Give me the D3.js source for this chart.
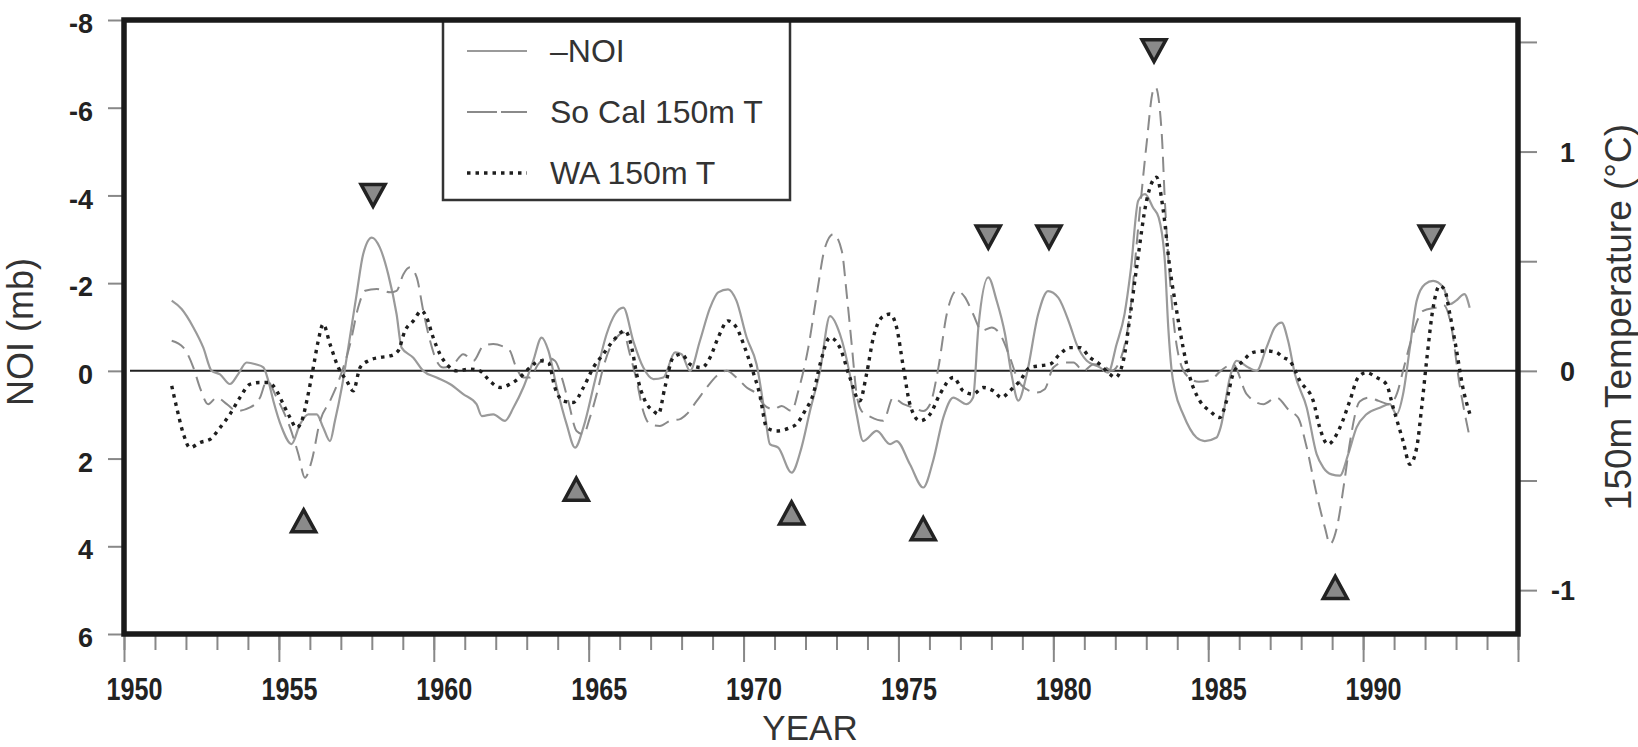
<!DOCTYPE html>
<html>
<head>
<meta charset="utf-8">
<script src="https://cdnjs.cloudflare.com/ajax/libs/d3/7.8.5/d3.min.js"></script>
<style>
  body { margin: 0; background: #fff; }
  svg { display: block; font-family: 'Liberation Sans', Arial, sans-serif; }
</style>
</head>
<body>
<div id="chart"></div>
<script>
// -NOI (mb), plotted on the inverted left axis
var noiSeries = [
  [1951.54,-1.6],[1951.86,-1.41],[1952.24,-0.99],[1952.56,-0.53],[1952.83,0.0],[1953.1,0.08],
  [1953.42,0.3],[1953.68,0.08],[1953.96,-0.19],[1954.25,-0.15],[1954.5,-0.08],[1954.66,0.23],
  [1954.82,0.68],[1955.09,1.29],[1955.41,1.67],[1955.68,1.22],[1955.95,0.99],[1956.22,0.99],
  [1956.43,1.29],[1956.65,1.6],[1956.81,1.14],[1957.03,0.38],[1957.24,-0.53],[1957.51,-1.75],
  [1957.72,-2.66],[1958.0,-3.04],[1958.26,-2.81],[1958.53,-2.2],[1958.8,-1.29],[1958.96,-0.53],
  [1959.34,-0.3],[1959.66,0.0],[1960.09,0.15],[1960.52,0.3],[1960.95,0.53],[1961.38,0.76],
  [1961.55,1.03],[1961.92,0.99],[1962.3,1.14],[1962.57,0.84],[1962.89,0.38],[1963.21,-0.23],
  [1963.48,-0.76],[1963.7,-0.46],[1963.97,0.38],[1964.29,1.22],[1964.56,1.75],[1964.83,1.29],
  [1965.2,0.23],[1965.58,-0.84],[1965.85,-1.29],[1966.12,-1.44],[1966.44,-0.68],[1966.76,-0.08],
  [1967.09,0.19],[1967.41,0.15],[1967.79,-0.42],[1968.0,-0.38],[1968.27,0.0],[1968.59,-0.68],
  [1968.92,-1.44],[1969.18,-1.79],[1969.5,-1.86],[1969.77,-1.6],[1970.1,-0.76],[1970.42,-0.15],
  [1970.69,0.99],[1970.85,1.67],[1971.12,1.75],[1971.55,2.32],[1971.87,1.75],[1972.15,0.9],
  [1972.47,0.0],[1972.79,-1.25],[1973.11,-0.84],[1973.43,0.08],[1973.65,0.99],[1973.86,1.6],
  [1974.3,1.37],[1974.73,1.67],[1974.94,1.6],[1975.37,2.13],[1975.8,2.66],[1976.12,2.05],
  [1976.45,1.06],[1976.77,0.61],[1977.2,0.76],[1977.41,0.61],[1977.58,-0.99],[1977.9,-2.13],
  [1978.17,-1.6],[1978.44,-0.84],[1978.65,0.08],[1978.87,0.68],[1979.14,0.08],[1979.51,-1.29],
  [1979.83,-1.82],[1980.16,-1.67],[1980.53,-1.06],[1980.75,-0.61],[1981.08,-0.23],[1981.5,-0.08],
  [1981.77,0.04],[1982.04,-0.6],[1982.3,-1.3],[1982.5,-2.3],[1982.74,-3.88],[1982.96,-4.03],
  [1983.22,-3.72],[1983.4,-3.5],[1983.6,-2.5],[1983.71,-0.99],[1983.82,0.0],[1983.93,0.46],
  [1984.19,0.99],[1984.62,1.52],[1984.89,1.6],[1985.27,1.52],[1985.4,1.29],[1985.7,0.15],
  [1985.92,-0.23],[1986.24,-0.1],[1986.56,0.0],[1986.88,-0.53],[1987.15,-0.99],[1987.37,-1.1],
  [1987.58,-0.68],[1987.8,0.08],[1988.18,0.84],[1988.5,1.9],[1988.71,2.2],[1988.98,2.36],
  [1989.25,2.39],[1989.52,1.9],[1989.79,1.29],[1990.11,0.99],[1990.54,0.84],[1990.86,0.76],
  [1991.08,0.99],[1991.29,0.53],[1991.51,-0.53],[1991.73,-1.6],[1992.0,-1.98],[1992.26,-2.05],
  [1992.59,-1.9],[1992.8,-1.52],[1993.0,-1.6],[1993.27,-1.75],[1993.44,-1.44]
];

// So Cal 150m temperature anomaly (deg C), right axis
var soCalSeries = [
  [1951.54,0.137],[1951.92,0.106],[1952.24,0.015],[1952.45,-0.076],[1952.72,-0.152],[1952.99,-0.122],
  [1953.32,-0.152],[1953.64,-0.183],[1954.07,-0.167],[1954.39,-0.122],[1954.61,-0.046],[1954.93,-0.122],
  [1955.36,-0.259],[1955.63,-0.38],[1955.84,-0.487],[1956.06,-0.41],[1956.33,-0.228],[1956.65,-0.137],
  [1956.97,-0.03],[1957.3,0.122],[1957.56,0.289],[1957.78,0.365],[1958.16,0.373],[1958.59,0.358],
  [1958.8,0.365],[1959.02,0.441],[1959.23,0.472],[1959.45,0.426],[1959.66,0.274],[1959.88,0.137],
  [1960.09,0.046],[1960.31,0.015],[1960.63,0.03],[1960.95,0.076],[1961.28,0.046],[1961.6,0.114],
  [1961.92,0.122],[1962.19,0.114],[1962.46,0.091],[1962.62,0.03],[1962.89,-0.03],[1963.1,-0.03],
  [1963.37,0.03],[1963.64,0.061],[1963.91,0.046],[1964.13,-0.03],[1964.34,-0.137],[1964.61,-0.274],
  [1964.83,-0.289],[1965.04,-0.213],[1965.26,-0.106],[1965.47,0.015],[1965.69,0.106],[1965.9,0.152],
  [1966.12,0.175],[1966.33,0.076],[1966.55,-0.046],[1966.76,-0.183],[1966.98,-0.243],[1967.3,-0.251],
  [1967.62,-0.228],[1967.95,-0.22],[1968.16,-0.198],[1968.49,-0.137],[1968.81,-0.076],[1969.13,-0.023],
  [1969.45,0.0],[1969.77,-0.03],[1970.1,-0.076],[1970.42,-0.106],[1970.64,-0.152],[1970.96,-0.175],
  [1971.23,-0.16],[1971.55,-0.183],[1971.77,-0.091],[1972.09,0.106],[1972.36,0.345],[1972.63,0.563],
  [1972.9,0.624],[1973.17,0.548],[1973.33,0.35],[1973.49,0.122],[1973.65,-0.106],[1973.81,-0.183],
  [1974.1,-0.21],[1974.51,-0.228],[1974.83,-0.122],[1975.16,-0.152],[1975.48,-0.167],[1975.8,-0.183],
  [1976.02,-0.152],[1976.29,0.015],[1976.56,0.259],[1976.88,0.365],[1977.15,0.335],[1977.41,0.259],
  [1977.69,0.183],[1978.01,0.198],[1978.28,0.167],[1978.6,0.061],[1978.87,-0.046],[1979.14,-0.084],
  [1979.46,-0.099],[1979.72,-0.084],[1980.0,0.015],[1980.32,0.038],[1980.65,0.038],[1980.97,0.0],
  [1981.3,0.03],[1981.62,0.023],[1981.88,0.0],[1982.15,0.046],[1982.47,0.259],[1982.74,0.654],
  [1983.01,1.035],[1983.22,1.279],[1983.3,1.294],[1983.5,1.08],[1983.6,0.776],[1983.82,0.32],
  [1984.0,0.1],[1984.3,-0.02],[1984.7,-0.05],[1985.1,-0.04],[1985.4,0.0],[1985.8,0.03],
  [1986.24,-0.106],[1986.78,-0.152],[1987.2,-0.122],[1987.63,-0.183],[1987.9,-0.213],[1988.18,-0.35],
  [1988.5,-0.563],[1988.77,-0.716],[1988.93,-0.79],[1989.15,-0.716],[1989.4,-0.5],[1989.57,-0.33],
  [1989.89,-0.14],[1990.2,-0.122],[1990.5,-0.137],[1990.86,-0.152],[1991.1,-0.1],[1991.29,0.0],
  [1991.51,0.12],[1991.94,0.274],[1992.37,0.289],[1992.6,0.3],[1992.85,0.2],[1993.1,-0.05],
  [1993.45,-0.31]
];

// WA 150m temperature anomaly (deg C), right axis
var waSeries = [
  [1951.54,-0.068],[1951.7,-0.167],[1951.92,-0.289],[1952.13,-0.35],[1952.45,-0.327],[1952.78,-0.312],
  [1953.1,-0.259],[1953.42,-0.198],[1953.74,-0.122],[1954.07,-0.061],[1954.39,-0.053],[1954.66,-0.053],
  [1954.93,-0.091],[1955.14,-0.152],[1955.36,-0.213],[1955.57,-0.259],[1955.74,-0.228],[1955.9,-0.137],
  [1956.11,0.015],[1956.27,0.137],[1956.43,0.213],[1956.65,0.122],[1956.92,0.015],[1957.19,-0.046],
  [1957.4,-0.091],[1957.62,0.015],[1957.89,0.046],[1958.26,0.061],[1958.59,0.068],[1958.85,0.091],
  [1959.07,0.183],[1959.34,0.228],[1959.61,0.274],[1959.77,0.243],[1959.98,0.152],[1960.2,0.076],
  [1960.42,0.03],[1960.74,0.0],[1961.17,0.008],[1961.49,0.0],[1961.81,-0.046],[1962.14,-0.076],
  [1962.46,-0.061],[1962.78,-0.03],[1963.1,0.015],[1963.43,0.046],[1963.7,0.038],[1963.91,-0.076],
  [1964.18,-0.137],[1964.5,-0.144],[1964.83,-0.076],[1965.15,0.015],[1965.47,0.076],[1965.79,0.137],
  [1966.17,0.183],[1966.39,0.106],[1966.55,-0.015],[1966.82,-0.137],[1967.09,-0.183],[1967.25,-0.198],
  [1967.46,-0.076],[1967.73,0.061],[1968.0,0.076],[1968.27,0.03],[1968.65,0.015],[1968.92,0.061],
  [1969.18,0.152],[1969.5,0.228],[1969.77,0.198],[1970.04,0.106],[1970.26,0.015],[1970.52,-0.106],
  [1970.75,-0.259],[1971.07,-0.274],[1971.5,-0.259],[1971.71,-0.243],[1971.98,-0.183],[1972.25,-0.106],
  [1972.47,0.03],[1972.79,0.152],[1973.11,0.106],[1973.43,-0.03],[1973.75,-0.137],[1973.97,-0.015],
  [1974.19,0.152],[1974.46,0.243],[1974.73,0.259],[1974.94,0.198],[1975.16,0.015],[1975.37,-0.152],
  [1975.69,-0.228],[1976.02,-0.198],[1976.34,-0.106],[1976.77,-0.03],[1977.09,-0.091],[1977.41,-0.106],
  [1977.74,-0.076],[1978.06,-0.091],[1978.33,-0.122],[1978.6,-0.091],[1978.92,-0.046],[1979.24,0.015],
  [1979.57,0.023],[1979.89,0.03],[1980.21,0.076],[1980.53,0.106],[1980.86,0.106],[1981.18,0.061],
  [1981.5,0.03],[1981.82,-0.015],[1982.0,-0.03],[1982.26,0.046],[1982.47,0.243],[1982.69,0.472],
  [1983.01,0.776],[1983.33,0.883],[1983.55,0.73],[1983.76,0.47],[1983.98,0.274],[1984.19,0.106],
  [1984.41,-0.03],[1984.73,-0.137],[1985.05,-0.183],[1985.37,-0.213],[1985.59,-0.137],[1985.8,-0.015],
  [1986.13,0.046],[1986.45,0.084],[1986.88,0.091],[1987.2,0.084],[1987.42,0.061],[1987.63,0.046],
  [1987.96,-0.046],[1988.39,-0.137],[1988.6,-0.259],[1988.86,-0.335],[1989.25,-0.259],[1989.57,-0.137],
  [1989.84,-0.03],[1990.1,-0.008],[1990.43,-0.03],[1990.75,-0.061],[1990.97,-0.167],[1991.29,-0.32],
  [1991.51,-0.426],[1991.73,-0.35],[1991.89,-0.167],[1992.05,0.046],[1992.26,0.289],[1992.47,0.388],
  [1992.63,0.37],[1992.8,0.259],[1993.0,0.106],[1993.22,-0.076],[1993.45,-0.198]
];

// event markers (year, NOI position in mb)
var warmYears = [1958.04, 1977.9, 1979.86, 1983.25, 1992.2];
var warmNoi   = [-4.0, -3.05, -3.05, -7.3, -3.05];
var coolYears = [1955.8, 1964.6, 1971.55, 1975.8, 1989.1];
var coolNoi   = [3.42, 2.7, 3.24, 3.6, 4.94];

var yearTicks = [1950, 1955, 1960, 1965, 1970, 1975, 1980, 1985, 1990, 1995];
var noiTicks = [-8, -6, -4, -2, 0, 2, 4, 6];
var tempTicks = [-1, -0.5, 0, 0.5, 1, 1.5];
var legendLabels = ["\u2013NOI", "So Cal 150m T", "WA 150m T"];

var W = 1638, H = 747;
var plotL = 124, plotR = 1518, plotT = 20, plotB = 634;

var svg = d3.select("#chart").append("svg").attr("width", W).attr("height", H);
svg.append("rect").attr("width", W).attr("height", H).attr("fill", "#fff");

var x = d3.scaleLinear().domain([1950, 1995]).range([plotL, plotR]);
var yN = d3.scaleLinear().domain([-8, 6]).range([plotT, plotB]);
// 1 deg C corresponds to 5 mb
var yT = d3.scaleLinear().domain([8 / 5, -6 / 5]).range([plotT, plotB]);

function minus(d) { return d < 0 ? "-" + Math.abs(d) : "" + d; }

// x axis: minor (yearly) then major ticks
var xMinor = svg.append("g").attr("transform", "translate(0," + (plotB + 2) + ")")
  .call(d3.axisBottom(x).tickValues(d3.range(1950, 1996)).tickSize(14).tickFormat(""));
var xMajor = svg.append("g").attr("transform", "translate(0," + (plotB + 2) + ")")
  .call(d3.axisBottom(x).tickValues(yearTicks).tickSize(26).tickFormat(function (d) { return d === 1995 ? "" : d; }));
[xMinor, xMajor].forEach(function (g) {
  g.select(".domain").remove();
  g.selectAll("line").attr("stroke", "#888").attr("stroke-width", 2);
});
xMajor.selectAll("text")
  .attr("x", 10).attr("y", 64).attr("dy", 0)
  .attr("textLength", function (d) { return d === 1995 ? null : 56; })
  .attr("lengthAdjust", "spacingAndGlyphs")
  .style("font-size", "31px").style("font-weight", "bold").attr("fill", "#222");

// left NOI axis
var yLeft = svg.append("g").attr("transform", "translate(" + (plotL - 2) + ",0)")
  .call(d3.axisLeft(yN).tickValues(noiTicks).tickSize(14).tickPadding(15).tickFormat(minus));
yLeft.select(".domain").remove();
yLeft.selectAll("line").attr("stroke", "#888").attr("stroke-width", 2);
yLeft.selectAll("text").attr("dy", "0.47em")
  .style("font-size", "27px").style("font-weight", "bold").attr("fill", "#222");

// right temperature axis
var yRight = svg.append("g").attr("transform", "translate(" + (plotR + 2) + ",0)")
  .call(d3.axisRight(yT).tickValues(tempTicks).tickSize(17)
    .tickFormat(function (d) { return Number.isInteger(d) ? minus(d) : ""; }));
yRight.select(".domain").remove();
yRight.selectAll("line").attr("stroke", "#888").attr("stroke-width", 2);
yRight.selectAll("text").attr("x", 55).attr("dy", "0.36em").attr("text-anchor", "end")
  .style("font-size", "27px").style("font-weight", "bold").attr("fill", "#222");

// zero line
svg.append("line")
  .attr("x1", x(1950) + 6).attr("x2", x(1995))
  .attr("y1", yN(0)).attr("y2", yN(0))
  .attr("stroke", "#222").attr("stroke-width", 2);

var noiLine = d3.line().x(function (d) { return x(d[0]); }).y(function (d) { return yN(d[1]); })
  .curve(d3.curveMonotoneX);
var tLine = d3.line().x(function (d) { return x(d[0]); }).y(function (d) { return yT(d[1]); })
  .curve(d3.curveMonotoneX);

svg.append("path").datum(noiSeries).attr("d", noiLine)
  .attr("fill", "none").attr("stroke", "#9a9a9a").attr("stroke-width", 2.2);
svg.append("path").datum(soCalSeries).attr("d", tLine)
  .attr("fill", "none").attr("stroke", "#8a8a8a").attr("stroke-width", 2)
  .attr("stroke-dasharray", "15,8");
svg.append("path").datum(waSeries).attr("d", tLine)
  .attr("fill", "none").attr("stroke", "#1e1e1e").attr("stroke-width", 3.4)
  .attr("stroke-dasharray", "3.5,5");

// triangles
function tri(cx, cy, down) {
  var s = down ? -1 : 1;
  return "M" + (cx - 12) + "," + (cy + 11 * s) + "L" + (cx + 12) + "," + (cy + 11 * s) +
    "L" + cx + "," + (cy - 11 * s) + "Z";
}
svg.selectAll(".warm").data(warmYears).enter().append("path")
  .attr("d", function (d, i) { return tri(x(d), yN(warmNoi[i]), true); })
  .attr("fill", "#8a8a8a").attr("stroke", "#222").attr("stroke-width", 3.5);
svg.selectAll(".cool").data(coolYears).enter().append("path")
  .attr("d", function (d, i) { return tri(x(d), yN(coolNoi[i]), false); })
  .attr("fill", "#8a8a8a").attr("stroke", "#222").attr("stroke-width", 3.5);

// legend
var lg = svg.append("g");
lg.append("rect").attr("x", 443).attr("y", plotT).attr("width", 347).attr("height", 180)
  .attr("fill", "#fff").attr("stroke", "#333").attr("stroke-width", 2.5);
var styles = [
  { stroke: "#9a9a9a", width: 2.2, dash: null },
  { stroke: "#8a8a8a", width: 2, dash: "30,4" },
  { stroke: "#1e1e1e", width: 3.4, dash: "3.5,5" }
];
legendLabels.forEach(function (t, i) {
  var cy = 51 + i * 61;
  lg.append("line").attr("x1", 467).attr("x2", 527).attr("y1", cy).attr("y2", cy)
    .attr("stroke", styles[i].stroke).attr("stroke-width", styles[i].width)
    .attr("stroke-dasharray", styles[i].dash);
  lg.append("text").attr("x", 550).attr("y", cy + 11).text(t)
    .style("font-size", "32px").attr("fill", "#333");
});

// frame
svg.append("rect").attr("x", plotL).attr("y", plotT).attr("width", plotR - plotL).attr("height", plotB - plotT)
  .attr("fill", "none").attr("stroke", "#1a1a1a").attr("stroke-width", 5.5);

// axis titles
svg.append("text").attr("transform", "translate(33,332) rotate(-90)")
  .attr("text-anchor", "middle").style("font-size", "36px").attr("fill", "#333").text("NOI (mb)");
svg.append("text").attr("transform", "translate(1631,317) rotate(-90)")
  .attr("text-anchor", "middle").style("font-size", "37px").attr("fill", "#333").text("150m Temperature (\u00b0C)");
svg.append("text").attr("x", 810).attr("y", 740)
  .attr("text-anchor", "middle").style("font-size", "35px").attr("fill", "#333").text("YEAR");
</script>
</body>
</html>
